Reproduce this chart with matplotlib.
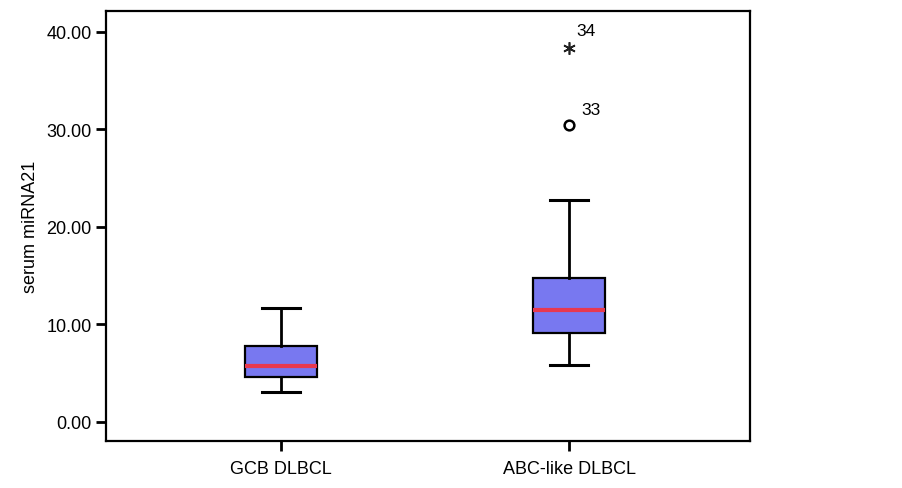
import matplotlib
matplotlib.use("Agg")
import matplotlib.pyplot as plt

plt.rcParams['font.family'] = ['Liberation Sans', 'DejaVu Sans']

groups = ["GCB DLBCL", "ABC-like DLBCL"]
whislo = [3.1, 5.88]
q1 = [4.65, 9.16]
med = [5.71, 11.49]
q3 = [7.83, 14.74]
whishi = [11.69, 22.8]
outlier_val = [30.46]      # circle, case 33 (ABC)
extreme_val = [38.4]       # asterisk, case 34 (ABC)
outlier_lbl = ["33"]
extreme_lbl = ["34"]
yticks = [0, 10, 20, 30, 40]

stats = []
for i in range(2):
    stats.append(dict(label=groups[i], whislo=whislo[i], q1=q1[i], med=med[i],
                      q3=q3[i], whishi=whishi[i], fliers=[]))

fig = plt.figure(figsize=(9.03, 4.89), dpi=100)
ax = fig.add_axes([106/903, 1-442/489, (750-106)/903, (442-12)/489])

pos = [1, 2]
ax.bxp(stats, positions=pos, widths=0.25, patch_artist=True, showfliers=False,
       boxprops=dict(facecolor="#7878f0", edgecolor="black", linewidth=1.6),
       medianprops=dict(color="#e8384f", linewidth=3),
       whiskerprops=dict(color="black", linewidth=2),
       capprops=dict(color="black", linewidth=2.2), capwidths=0.13)

ax.plot([pos[1]] * len(outlier_val), outlier_val, 'o', ms=7, mfc="white",
        mec="black", mew=1.8)
ax.plot([pos[1]] * len(extreme_val), extreme_val, marker=(6, 2, 0), ls="none",
        ms=9, color="#222222", mew=1.2)
for v, t in zip(outlier_val, outlier_lbl):
    ax.annotate(t, (pos[1], v), xytext=(9, 8), textcoords="offset points",
                fontsize=12.5)
for v, t in zip(extreme_val, extreme_lbl):
    ax.annotate(t, (pos[1], v), xytext=(5, 9), textcoords="offset points",
                fontsize=12.5)

ax.set_xlim(0.392, 2.628)
ax.set_ylim(-1.95, 42.15)
ax.set_yticks(yticks)
ax.set_yticklabels(["%.2f" % v for v in yticks])
ax.set_xticks(pos)
ax.set_xticklabels(groups)
ax.tick_params(axis="both", labelsize=13, width=2, length=7, direction="out")
ax.tick_params(axis="x", pad=7)
ax.set_ylabel("serum miRNA21", fontsize=13, labelpad=5)
for s in ax.spines.values():
    s.set_linewidth(1.6)

fig.savefig("out.png", dpi=100)
